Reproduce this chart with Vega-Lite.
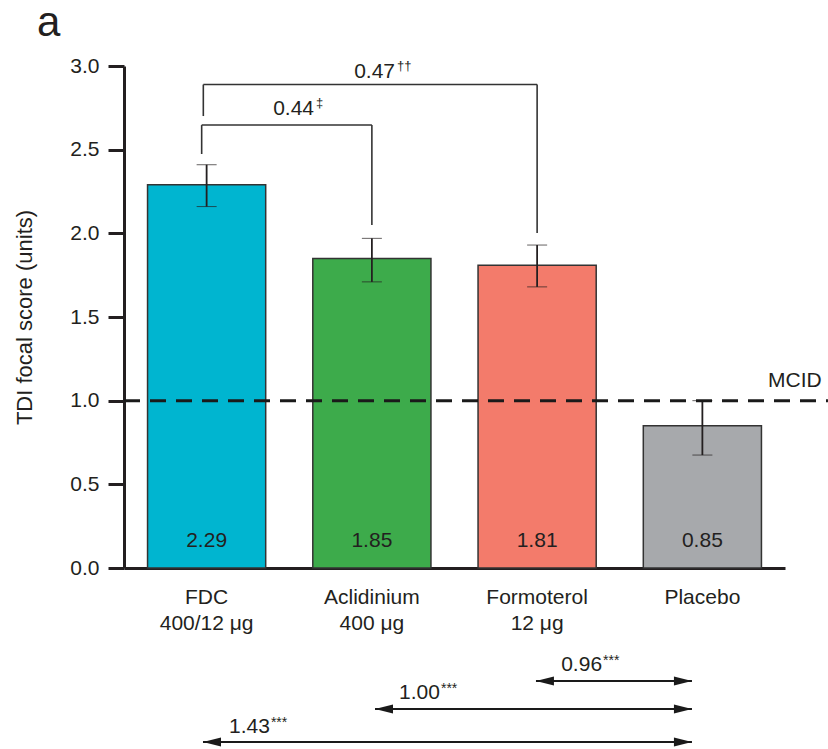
{
  "$schema": "https://vega.github.io/schema/vega-lite/v6.json",
  "autosize": {"type": "none"},
  "width": 661,
  "height": 502,
  "padding": {"left": 124, "top": 66, "right": 43, "bottom": 181},
  "background": "white",
  "title": {"text": "a", "anchor": "start", "frame": "group", "fontSize": 42, "fontWeight": "normal", "dx": -87, "offset": 10, "color": "#231f20", "font": "Liberation Sans"},
  "config": {
    "view": {"stroke": null},
    "font": "Liberation Sans",
    "text": {"font": "Liberation Sans", "color": "#231f20"},
    "axisY": {
      "labelFontSize": 21, "labelColor": "#231f20", "labelPadding": 9,
      "tickSize": 16, "tickWidth": 3, "tickColor": "#231f20",
      "domainWidth": 3, "domainColor": "#231f20", "grid": false,
      "titleFontSize": 22, "titleFontWeight": "normal", "titleColor": "#231f20",
      "titleX": -100, "titleY": 251, "titleBaseline": "middle", "titleAlign": "center", "titleAngle": -90
    }
  },
  "datasets": {
    "groups": [
      {"drug": "FDC\n400/12 μg", "mean": 2.29, "lo": 2.16, "hi": 2.41},
      {"drug": "Aclidinium\n400 μg", "mean": 1.85, "lo": 1.71, "hi": 1.97},
      {"drug": "Formoterol\n12 μg", "mean": 1.81, "lo": 1.68, "hi": 1.93},
      {"drug": "Placebo", "mean": 0.85, "lo": 0.675, "hi": 1.0}
    ],
    "mcid": [
      {"label": "MCID", "value": 1.0, "x0": 0.5, "x1": 4.76, "tx": 4.56, "ty": 1.118}
    ],
    "brackets": [
      {"diff": "0.44", "sig": "‡", "xl": 0.97, "xr": 2.0, "ytop": 2.647, "ylb": 2.474, "yrb": 2.05, "tx": 1.65, "ty": 2.742},
      {"diff": "0.47", "sig": "††", "xl": 0.98, "xr": 3.0, "ytop": 2.889, "ylb": 2.701, "yrb": 2.002, "tx": 2.14, "ty": 2.967}
    ],
    "arrows": [
      {"diff": "0.96", "sig": "***", "xl": 2.993, "xr": 3.937, "y": -0.675, "tx": 3.393, "ty": -0.58},
      {"diff": "1.00", "sig": "***", "xl": 2.019, "xr": 3.937, "y": -0.843, "tx": 2.412, "ty": -0.747},
      {"diff": "1.43", "sig": "***", "xl": 0.978, "xr": 3.937, "y": -1.04, "tx": 1.383, "ty": -0.95}
    ]
  },
  "layer": [
    {
      "data": {"name": "groups"},
      "encoding": {
        "x": {
          "field": "drug", "type": "nominal", "sort": null,
          "scale": {"paddingInner": 0.285, "paddingOuter": 0.1425},
          "axis": {
            "title": null, "labelAngle": 0, "labelExpr": "split(datum.label, '\\n')",
            "labelFontSize": 21, "labelColor": "#231f20", "labelLineHeight": 26,
            "labelPadding": 18, "ticks": false, "tickSize": 0,
            "domainWidth": 3, "domainColor": "#231f20", "grid": false
          }
        }
      },
      "layer": [
        {
          "mark": {"type": "bar", "stroke": "#333333", "strokeWidth": 1.5},
          "encoding": {
            "y": {
              "field": "mean", "type": "quantitative",
              "scale": {"domain": [0, 3], "nice": false},
              "axis": {"title": "TDI focal score (units)", "values": [0, 0.5, 1, 1.5, 2, 2.5, 3], "format": ".1f"}
            },
            "color": {
              "field": "drug", "type": "nominal", "legend": null,
              "scale": {
                "domain": ["FDC\n400/12 μg", "Aclidinium\n400 μg", "Formoterol\n12 μg", "Placebo"],
                "range": ["#00b5d0", "#3dab4b", "#f37b6b", "#a7a9ac"]
              }
            }
          }
        },
        {
          "mark": {"type": "errorbar", "ticks": {"size": 20, "color": "#231f20", "strokeWidth": 2}, "rule": {"color": "#231f20", "strokeWidth": 1.8}},
          "encoding": {
            "y": {"field": "lo", "type": "quantitative", "scale": {"domain": [0, 3], "nice": false}, "title": "TDI focal score (units)"},
            "y2": {"field": "hi"}
          }
        },
        {
          "mark": {"type": "text", "fontSize": 21, "baseline": "middle"},
          "encoding": {
            "y": {"datum": 0.161, "type": "quantitative", "scale": {"domain": [0, 3], "nice": false}},
            "text": {"field": "mean", "type": "quantitative", "format": ".2f"}
          }
        }
      ]
    },
    {
      "layer": [
        {
          "data": {"name": "mcid"},
          "mark": {"type": "rule", "strokeDash": [16, 10], "strokeWidth": 3, "color": "#1a1a1a"},
          "encoding": {
            "x": {"field": "x0", "type": "quantitative", "scale": {"domain": [0.5, 4.5], "nice": false}, "axis": null},
            "x2": {"field": "x1"},
            "y": {"field": "value", "type": "quantitative", "scale": {"domain": [0, 3], "nice": false}}
          }
        },
        {
          "data": {"name": "mcid"},
          "mark": {"type": "text", "fontSize": 21, "baseline": "middle", "align": "center"},
          "encoding": {
            "x": {"field": "tx", "type": "quantitative", "scale": {"domain": [0.5, 4.5], "nice": false}, "axis": null},
            "y": {"field": "ty", "type": "quantitative", "scale": {"domain": [0, 3], "nice": false}},
            "text": {"field": "label"}
          }
        },
        {
          "data": {"name": "brackets"},
          "mark": {"type": "rule", "strokeWidth": 1.6, "color": "#333333"},
          "encoding": {
            "x": {"field": "xl", "type": "quantitative", "scale": {"domain": [0.5, 4.5], "nice": false}, "axis": null},
            "x2": {"field": "xr"},
            "y": {"field": "ytop", "type": "quantitative", "scale": {"domain": [0, 3], "nice": false}}
          }
        },
        {
          "data": {"name": "brackets"},
          "mark": {"type": "rule", "strokeWidth": 1.6, "color": "#333333"},
          "encoding": {
            "x": {"field": "xl", "type": "quantitative", "scale": {"domain": [0.5, 4.5], "nice": false}, "axis": null},
            "y": {"field": "ylb", "type": "quantitative", "scale": {"domain": [0, 3], "nice": false}},
            "y2": {"field": "ytop"}
          }
        },
        {
          "data": {"name": "brackets"},
          "mark": {"type": "rule", "strokeWidth": 1.6, "color": "#333333"},
          "encoding": {
            "x": {"field": "xr", "type": "quantitative", "scale": {"domain": [0.5, 4.5], "nice": false}, "axis": null},
            "y": {"field": "yrb", "type": "quantitative", "scale": {"domain": [0, 3], "nice": false}},
            "y2": {"field": "ytop"}
          }
        },
        {
          "data": {"name": "brackets"},
          "mark": {"type": "text", "fontSize": 21, "baseline": "middle", "align": "right"},
          "encoding": {
            "x": {"field": "tx", "type": "quantitative", "scale": {"domain": [0.5, 4.5], "nice": false}, "axis": null},
            "y": {"field": "ty", "type": "quantitative", "scale": {"domain": [0, 3], "nice": false}},
            "text": {"field": "diff"}
          }
        },
        {
          "data": {"name": "brackets"},
          "mark": {"type": "text", "fontSize": 13, "baseline": "middle", "align": "left", "dx": 2, "dy": -6},
          "encoding": {
            "x": {"field": "tx", "type": "quantitative", "scale": {"domain": [0.5, 4.5], "nice": false}, "axis": null},
            "y": {"field": "ty", "type": "quantitative", "scale": {"domain": [0, 3], "nice": false}},
            "text": {"field": "sig"}
          }
        },
        {
          "data": {"name": "arrows"},
          "mark": {"type": "rule", "strokeWidth": 2, "color": "#1a1a1a"},
          "encoding": {
            "x": {"field": "xl", "type": "quantitative", "scale": {"domain": [0.5, 4.5], "nice": false}, "axis": null},
            "x2": {"field": "xr"},
            "y": {"field": "y", "type": "quantitative", "scale": {"domain": [0, 3], "nice": false}}
          }
        },
        {
          "data": {"name": "arrows"},
          "mark": {"type": "point", "filled": true, "shape": "M 0 0 L 2 -0.5 L 2 0.5 Z", "size": 324, "color": "#1a1a1a", "opacity": 1, "strokeWidth": 0},
          "encoding": {
            "x": {"field": "xl", "type": "quantitative", "scale": {"domain": [0.5, 4.5], "nice": false}, "axis": null},
            "y": {"field": "y", "type": "quantitative", "scale": {"domain": [0, 3], "nice": false}}
          }
        },
        {
          "data": {"name": "arrows"},
          "mark": {"type": "point", "filled": true, "shape": "M 0 0 L -2 -0.5 L -2 0.5 Z", "size": 324, "color": "#1a1a1a", "opacity": 1, "strokeWidth": 0},
          "encoding": {
            "x": {"field": "xr", "type": "quantitative", "scale": {"domain": [0.5, 4.5], "nice": false}, "axis": null},
            "y": {"field": "y", "type": "quantitative", "scale": {"domain": [0, 3], "nice": false}}
          }
        },
        {
          "data": {"name": "arrows"},
          "mark": {"type": "text", "fontSize": 21, "baseline": "middle", "align": "right"},
          "encoding": {
            "x": {"field": "tx", "type": "quantitative", "scale": {"domain": [0.5, 4.5], "nice": false}, "axis": null},
            "y": {"field": "ty", "type": "quantitative", "scale": {"domain": [0, 3], "nice": false}},
            "text": {"field": "diff"}
          }
        },
        {
          "data": {"name": "arrows"},
          "mark": {"type": "text", "fontSize": 14, "baseline": "middle", "align": "left", "dx": 1, "dy": -4},
          "encoding": {
            "x": {"field": "tx", "type": "quantitative", "scale": {"domain": [0.5, 4.5], "nice": false}, "axis": null},
            "y": {"field": "ty", "type": "quantitative", "scale": {"domain": [0, 3], "nice": false}},
            "text": {"field": "sig"}
          }
        }
      ]
    }
  ],
  "resolve": {"scale": {"x": "independent"}}
}
